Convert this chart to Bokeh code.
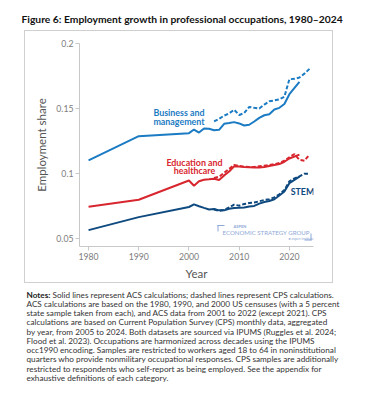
from bokeh.plotting import figure
from bokeh.layouts import column, row
from bokeh.models import Label, BoxAnnotation, FixedTicker, Range1d, Spacer, Div
from bokeh.embed import file_html
from bokeh.resources import INLINE

# ---------------- data ----------------
acs_years = [1980, 1990, 2000, 2001, 2002, 2003, 2004, 2005, 2006, 2007, 2008, 2009,
             2010, 2011, 2012, 2013, 2014, 2015, 2016, 2017, 2018, 2019, 2020, 2022]
cps_years = [2005, 2006, 2007, 2008, 2009, 2010, 2011, 2012, 2013, 2014, 2015, 2016,
             2017, 2018, 2019, 2020, 2021, 2022, 2023, 2024]

business_acs = [0.110, 0.1287, 0.131, 0.1338, 0.1315, 0.1346, 0.1344, 0.1333, 0.1336,
                0.1382, 0.1388, 0.1395, 0.1385, 0.1369, 0.1375, 0.1400, 0.1428, 0.1448,
                0.1456, 0.1492, 0.1505, 0.1535, 0.1610, 0.1705]
business_cps = [0.1400, 0.1420, 0.1445, 0.1462, 0.1490, 0.1450, 0.1465, 0.1512, 0.1505,
                0.1500, 0.1530, 0.1555, 0.1562, 0.1570, 0.1590, 0.1725, 0.1728, 0.1738,
                0.1768, 0.1805]

education_acs = [0.0744, 0.0798, 0.0946, 0.0905, 0.0940, 0.0952, 0.0955, 0.0960, 0.0950,
                 0.0985, 0.1015, 0.1055, 0.1053, 0.1050, 0.1048, 0.1046, 0.1046, 0.1050,
                 0.1058, 0.1065, 0.1072, 0.1090, 0.1115, 0.1145]
education_cps = [0.0965, 0.0975, 0.1005, 0.1035, 0.1065, 0.1058, 0.1052, 0.1050, 0.1050,
                 0.1055, 0.1060, 0.1065, 0.1072, 0.1080, 0.1098, 0.1125, 0.1148, 0.1105,
                 0.1098, 0.1145]

stem_acs = [0.0564, 0.0664, 0.0742, 0.0762, 0.0748, 0.0735, 0.0723, 0.0727, 0.0716,
            0.0716, 0.0728, 0.0735, 0.0736, 0.0738, 0.0746, 0.0750, 0.0768, 0.0780,
            0.0788, 0.0802, 0.0830, 0.0862, 0.0925, 0.0975]
stem_cps = [0.0723, 0.0712, 0.0720, 0.0738, 0.0760, 0.0752, 0.0765, 0.0772, 0.0776,
            0.0786, 0.0796, 0.0802, 0.0816, 0.0840, 0.0872, 0.0940, 0.0962, 0.0978,
            0.0998, 0.0998]

y_ticks = [0.05, 0.1, 0.15, 0.2]
y_tick_labels = ["0.05", "0.1", "0.15", "0.2"]
x_ticks = [1980, 1990, 2000, 2010, 2020]
x_tick_labels = ["1980", "1990", "2000", "2010", "2020"]

title_text = "Figure 6: Employment growth in professional occupations, 1980\u20132024"
notes_lines = [
    "Solid lines represent ACS calculations; dashed lines represent CPS calculations.",
    "ACS calculations are based on the 1980, 1990, and 2000 US censuses (with a 5 percent",
    "state sample taken from each), and ACS data from 2001 to 2022 (except 2021). CPS",
    "calculations are based on Current Population Survey (CPS) monthly data, aggregated",
    "by year, from 2005 to 2024. Both datasets are sourced via IPUMS (Ruggles et al. 2024;",
    "Flood et al. 2023). Occupations are harmonized across decades using the IPUMS",
    "occ1990 encoding. Samples are restricted to workers aged 18 to 64 in noninstitutional",
    "quarters who provide nonmilitary occupational responses. CPS samples are additionally",
    "restricted to respondents who self-report as being employed. See the appendix for",
    "exhaustive definitions of each category.",
]

BLUE = "#1b7bc3"
RED = "#d8262f"
NAVY = "#0e4a7f"
BORDER = "#cfcfcf"
FONT = "Lato"


def blank_fig(w, h):
    f = figure(width=w, height=h, output_backend="svg", toolbar_location=None,
               x_range=Range1d(0, w), y_range=Range1d(h, 0),
               x_axis_type=None, y_axis_type=None,
               min_border_left=0, min_border_right=0, min_border_top=0,
               min_border_bottom=0)
    f.outline_line_color = None
    f.xgrid.visible = False
    f.ygrid.visible = False
    f.background_fill_color = "white"
    f.border_fill_color = "white"
    return f


def bar(w, h):
    return Div(text="", width=w, height=h,
               styles={"background-color": BORDER, "margin": "0", "padding": "0"})


# ---------------- title strip (page y 0..30) ----------------
TITLE_H = 30
title_fig = blank_fig(384, TITLE_H)
title_fig.add_layout(Label(x=21, y=18, text=title_text, text_font=FONT,
                           text_font_size="10.3px", text_font_style="bold",
                           text_color="#111111", text_baseline="middle"))

# ---------------- main chart (inside border box x 24..332, y 30..282) ----------------
BX0, BY0 = 25, 31          # page position of the chart canvas
BW, BH = 307, 251
FRAME_L, FRAME_R, FRAME_T, FRAME_B = 79, 313, 43, 246  # page px
p = figure(width=BW, height=BH, output_backend="svg", toolbar_location=None,
           x_range=Range1d(1978.2, 2024.8), y_range=Range1d(0.0438, 0.2),
           min_border_left=FRAME_L - BX0, min_border_right=BX0 + BW - FRAME_R,
           min_border_top=FRAME_T - BY0, min_border_bottom=BY0 + BH - FRAME_B)
p.outline_line_color = None
p.background_fill_color = "white"
p.border_fill_color = "white"
p.xgrid.visible = False
p.ygrid.visible = False

for ax in (p.xaxis[0], p.yaxis[0]):
    ax.axis_line_color = "#c8c8c8"
    ax.major_tick_line_color = "#c8c8c8"
    ax.minor_tick_line_color = None
    ax.major_tick_in = 0
    ax.major_tick_out = 4
    ax.major_label_text_color = "#7d7d7d"
    ax.major_label_text_font = FONT
    ax.major_label_text_font_size = "8.7px"
    ax.major_label_standoff = 2
    ax.axis_label_text_font = FONT
    ax.axis_label_text_font_style = "normal"
    ax.axis_label_text_color = "#555555"
    ax.axis_label_text_font_size = "11.5px"

p.yaxis[0].ticker = FixedTicker(ticks=y_ticks)
p.yaxis[0].major_label_overrides = dict(zip(y_ticks, y_tick_labels))
p.yaxis[0].axis_label = "Employment share"
p.yaxis[0].axis_label_standoff = 5
p.xaxis[0].ticker = FixedTicker(ticks=x_ticks)
p.xaxis[0].major_label_overrides = dict(zip(x_ticks, x_tick_labels))
p.xaxis[0].axis_label = "Year"
p.xaxis[0].axis_label_standoff = 4

for ys, col in ((business_acs, BLUE), (education_acs, RED), (stem_acs, NAVY)):
    p.line(acs_years, ys, line_color=col, line_width=2)
for ys, col in ((business_cps, BLUE), (education_cps, RED), (stem_cps, NAVY)):
    p.line(cps_years, ys, line_color=col, line_width=2, line_dash="4 2")


def sx(px):
    return px - FRAME_L


def sy(py):
    return FRAME_B - py


def label(text, px, py, size, color, style="normal", align="left"):
    p.add_layout(Label(x=sx(px), y=sy(py), x_units="screen", y_units="screen",
                       text=text, text_font=FONT, text_font_size=size,
                       text_color=color, text_font_style=style, text_align=align,
                       text_baseline="middle"))


label("Business and", 178.5, 112, "8.9px", BLUE, style="bold", align="center")
label("management", 178.5, 121, "8.9px", BLUE, style="bold", align="center")
label("Education and", 194, 162, "8.9px", RED, style="bold", align="center")
label("healthcare", 194, 170, "8.9px", RED, style="bold", align="center")
label("STEM", 302, 191, "8.9px", NAVY, style="bold", align="center")

LOGO = "#8ea8d6"
label("ASPEN", 233, 226, "4px", LOGO, style="bold")
label("ECONOMIC STRATEGY GROUP", 222, 232, "6.1px", LOGO)
label("\u25cf aspen institute", 288, 238, "3.5px", LOGO)
for (l, r, t, b) in ((217, 224, 224.5, 225.5), (217, 218, 224.5, 231),
                     (310, 311, 233, 240), (304, 311, 239, 240)):
    p.add_layout(BoxAnnotation(left=sx(l), right=sx(r), top=sy(t), bottom=sy(b),
                               left_units="screen", right_units="screen",
                               top_units="screen", bottom_units="screen",
                               fill_color=LOGO, fill_alpha=1, line_color=None))

boxed = column(bar(BW, 1), p, bar(BW, 1), spacing=0)
main_row = row(Spacer(width=BX0 - 1, height=BH + 2), bar(1, BH + 2), boxed,
               bar(1, BH + 2), Spacer(width=384 - BX0 - BW - 1, height=BH + 2),
               spacing=0)

# ---------------- notes ----------------
NY0 = TITLE_H + BH + 2
notes_fig = blank_fig(384, 420 - NY0 - 4)
NOTE_SIZE = "8.2px"
notes_fig.add_layout(Label(x=26, y=294 - NY0, text="Notes:", text_font=FONT,
                           text_font_size=NOTE_SIZE, text_font_style="bold",
                           text_color="#222222", text_baseline="middle"))
notes_fig.add_layout(Label(x=52, y=294 - NY0, text=notes_lines[0], text_font=FONT,
                           text_font_size=NOTE_SIZE, text_color="#333333",
                           text_baseline="middle"))
for i, ln in enumerate(notes_lines[1:], start=1):
    notes_fig.add_layout(Label(x=26, y=294 + 9.25 * i - NY0, text=ln, text_font=FONT,
                               text_font_size=NOTE_SIZE, text_color="#333333",
                               text_baseline="middle"))

layout = column(title_fig, main_row, notes_fig, spacing=0)
open("out.html", "w").write(file_html(layout, INLINE))
